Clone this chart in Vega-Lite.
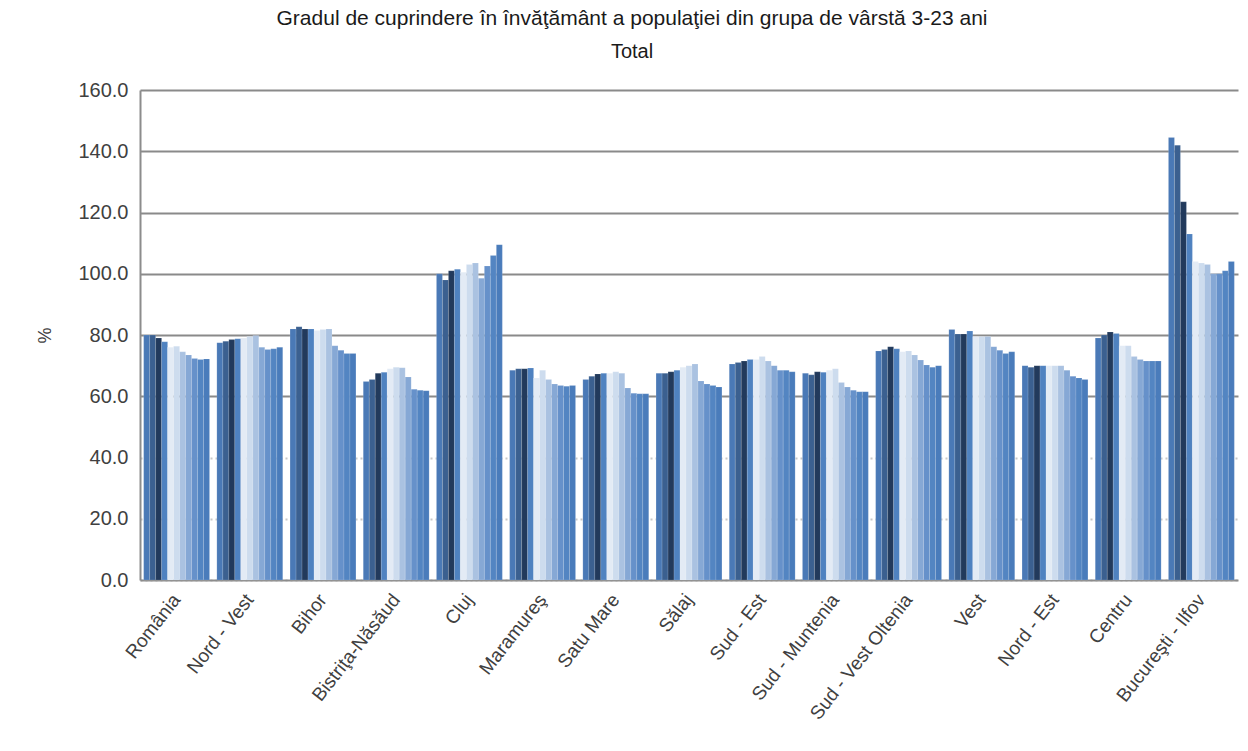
{
  "$schema": "https://vega.github.io/schema/vega-lite/v6.json",
  "width": 1098,
  "height": 490,
  "autosize": {"type": "none"},
  "padding": {"left": 140, "top": 90, "right": 10, "bottom": 171},
  "background": "white",
  "title": {
    "text": "Gradul de cuprindere în învăţământ a populaţiei din grupa de vârstă 3-23 ani",
    "subtitle": "Total",
    "anchor": "middle",
    "frame": "group",
    "dx": -57,
    "offset": 18,
    "font": "Liberation Sans",
    "fontSize": 21,
    "fontWeight": "normal",
    "color": "#1a1a1a",
    "subtitleFont": "Liberation Sans",
    "subtitleFontSize": 20,
    "subtitleColor": "#1a1a1a",
    "subtitlePadding": 13
  },
  "data": {
    "values": [
      {"r": "România", "an": "2000/2001", "v": 80.0}, {"r": "România", "an": "2001/2002", "v": 80.0}, {"r": "România", "an": "2002/2003", "v": 79.0}, {"r": "România", "an": "2003/2004", "v": 77.8}, {"r": "România", "an": "2004/2005", "v": 76.0}, {"r": "România", "an": "2005/2006", "v": 76.3}, {"r": "România", "an": "2006/2007", "v": 74.5}, {"r": "România", "an": "2007/2008", "v": 73.5}, {"r": "România", "an": "2008/2009", "v": 72.3}, {"r": "România", "an": "2009/2010", "v": 72.0}, {"r": "România", "an": "2010/2011", "v": 72.2},
      {"r": "Nord - Vest", "an": "2000/2001", "v": 77.5}, {"r": "Nord - Vest", "an": "2001/2002", "v": 78.0}, {"r": "Nord - Vest", "an": "2002/2003", "v": 78.5}, {"r": "Nord - Vest", "an": "2003/2004", "v": 78.8}, {"r": "Nord - Vest", "an": "2004/2005", "v": 79.0}, {"r": "Nord - Vest", "an": "2005/2006", "v": 79.5}, {"r": "Nord - Vest", "an": "2006/2007", "v": 79.8}, {"r": "Nord - Vest", "an": "2007/2008", "v": 76.0}, {"r": "Nord - Vest", "an": "2008/2009", "v": 75.3}, {"r": "Nord - Vest", "an": "2009/2010", "v": 75.5}, {"r": "Nord - Vest", "an": "2010/2011", "v": 76.0},
      {"r": "Bihor", "an": "2000/2001", "v": 82.0}, {"r": "Bihor", "an": "2001/2002", "v": 82.7}, {"r": "Bihor", "an": "2002/2003", "v": 82.0}, {"r": "Bihor", "an": "2003/2004", "v": 82.0}, {"r": "Bihor", "an": "2004/2005", "v": 81.5}, {"r": "Bihor", "an": "2005/2006", "v": 81.8}, {"r": "Bihor", "an": "2006/2007", "v": 82.0}, {"r": "Bihor", "an": "2007/2008", "v": 76.5}, {"r": "Bihor", "an": "2008/2009", "v": 75.0}, {"r": "Bihor", "an": "2009/2010", "v": 74.0}, {"r": "Bihor", "an": "2010/2011", "v": 74.0},
      {"r": "Bistriţa-Năsăud", "an": "2000/2001", "v": 64.8}, {"r": "Bistriţa-Năsăud", "an": "2001/2002", "v": 65.5}, {"r": "Bistriţa-Năsăud", "an": "2002/2003", "v": 67.5}, {"r": "Bistriţa-Năsăud", "an": "2003/2004", "v": 67.8}, {"r": "Bistriţa-Năsăud", "an": "2004/2005", "v": 69.0}, {"r": "Bistriţa-Năsăud", "an": "2005/2006", "v": 69.5}, {"r": "Bistriţa-Năsăud", "an": "2006/2007", "v": 69.3}, {"r": "Bistriţa-Năsăud", "an": "2007/2008", "v": 66.3}, {"r": "Bistriţa-Năsăud", "an": "2008/2009", "v": 62.3}, {"r": "Bistriţa-Năsăud", "an": "2009/2010", "v": 62.0}, {"r": "Bistriţa-Năsăud", "an": "2010/2011", "v": 61.8},
      {"r": "Cluj", "an": "2000/2001", "v": 100.0}, {"r": "Cluj", "an": "2001/2002", "v": 98.0}, {"r": "Cluj", "an": "2002/2003", "v": 101.0}, {"r": "Cluj", "an": "2003/2004", "v": 101.5}, {"r": "Cluj", "an": "2004/2005", "v": 100.5}, {"r": "Cluj", "an": "2005/2006", "v": 103.0}, {"r": "Cluj", "an": "2006/2007", "v": 103.5}, {"r": "Cluj", "an": "2007/2008", "v": 98.5}, {"r": "Cluj", "an": "2008/2009", "v": 102.5}, {"r": "Cluj", "an": "2009/2010", "v": 106.0}, {"r": "Cluj", "an": "2010/2011", "v": 109.5},
      {"r": "Maramureş", "an": "2000/2001", "v": 68.5}, {"r": "Maramureş", "an": "2001/2002", "v": 69.0}, {"r": "Maramureş", "an": "2002/2003", "v": 69.0}, {"r": "Maramureş", "an": "2003/2004", "v": 69.2}, {"r": "Maramureş", "an": "2004/2005", "v": 66.0}, {"r": "Maramureş", "an": "2005/2006", "v": 68.5}, {"r": "Maramureş", "an": "2006/2007", "v": 65.5}, {"r": "Maramureş", "an": "2007/2008", "v": 64.0}, {"r": "Maramureş", "an": "2008/2009", "v": 63.5}, {"r": "Maramureş", "an": "2009/2010", "v": 63.3}, {"r": "Maramureş", "an": "2010/2011", "v": 63.5},
      {"r": "Satu Mare", "an": "2000/2001", "v": 65.5}, {"r": "Satu Mare", "an": "2001/2002", "v": 66.5}, {"r": "Satu Mare", "an": "2002/2003", "v": 67.3}, {"r": "Satu Mare", "an": "2003/2004", "v": 67.5}, {"r": "Satu Mare", "an": "2004/2005", "v": 67.5}, {"r": "Satu Mare", "an": "2005/2006", "v": 68.0}, {"r": "Satu Mare", "an": "2006/2007", "v": 67.5}, {"r": "Satu Mare", "an": "2007/2008", "v": 62.7}, {"r": "Satu Mare", "an": "2008/2009", "v": 61.0}, {"r": "Satu Mare", "an": "2009/2010", "v": 60.8}, {"r": "Satu Mare", "an": "2010/2011", "v": 60.8},
      {"r": "Sălaj", "an": "2000/2001", "v": 67.5}, {"r": "Sălaj", "an": "2001/2002", "v": 67.5}, {"r": "Sălaj", "an": "2002/2003", "v": 68.0}, {"r": "Sălaj", "an": "2003/2004", "v": 68.5}, {"r": "Sălaj", "an": "2004/2005", "v": 69.5}, {"r": "Sălaj", "an": "2005/2006", "v": 70.0}, {"r": "Sălaj", "an": "2006/2007", "v": 70.5}, {"r": "Sălaj", "an": "2007/2008", "v": 65.0}, {"r": "Sălaj", "an": "2008/2009", "v": 64.0}, {"r": "Sălaj", "an": "2009/2010", "v": 63.5}, {"r": "Sălaj", "an": "2010/2011", "v": 63.0},
      {"r": "Sud - Est", "an": "2000/2001", "v": 70.5}, {"r": "Sud - Est", "an": "2001/2002", "v": 71.0}, {"r": "Sud - Est", "an": "2002/2003", "v": 71.5}, {"r": "Sud - Est", "an": "2003/2004", "v": 72.0}, {"r": "Sud - Est", "an": "2004/2005", "v": 72.0}, {"r": "Sud - Est", "an": "2005/2006", "v": 73.0}, {"r": "Sud - Est", "an": "2006/2007", "v": 71.5}, {"r": "Sud - Est", "an": "2007/2008", "v": 70.0}, {"r": "Sud - Est", "an": "2008/2009", "v": 68.5}, {"r": "Sud - Est", "an": "2009/2010", "v": 68.5}, {"r": "Sud - Est", "an": "2010/2011", "v": 68.0},
      {"r": "Sud - Muntenia", "an": "2000/2001", "v": 67.5}, {"r": "Sud - Muntenia", "an": "2001/2002", "v": 67.0}, {"r": "Sud - Muntenia", "an": "2002/2003", "v": 68.0}, {"r": "Sud - Muntenia", "an": "2003/2004", "v": 67.8}, {"r": "Sud - Muntenia", "an": "2004/2005", "v": 68.5}, {"r": "Sud - Muntenia", "an": "2005/2006", "v": 69.0}, {"r": "Sud - Muntenia", "an": "2006/2007", "v": 64.5}, {"r": "Sud - Muntenia", "an": "2007/2008", "v": 63.0}, {"r": "Sud - Muntenia", "an": "2008/2009", "v": 62.0}, {"r": "Sud - Muntenia", "an": "2009/2010", "v": 61.5}, {"r": "Sud - Muntenia", "an": "2010/2011", "v": 61.5},
      {"r": "Sud - Vest Oltenia", "an": "2000/2001", "v": 74.8}, {"r": "Sud - Vest Oltenia", "an": "2001/2002", "v": 75.3}, {"r": "Sud - Vest Oltenia", "an": "2002/2003", "v": 76.2}, {"r": "Sud - Vest Oltenia", "an": "2003/2004", "v": 75.5}, {"r": "Sud - Vest Oltenia", "an": "2004/2005", "v": 74.5}, {"r": "Sud - Vest Oltenia", "an": "2005/2006", "v": 74.8}, {"r": "Sud - Vest Oltenia", "an": "2006/2007", "v": 73.5}, {"r": "Sud - Vest Oltenia", "an": "2007/2008", "v": 71.8}, {"r": "Sud - Vest Oltenia", "an": "2008/2009", "v": 70.2}, {"r": "Sud - Vest Oltenia", "an": "2009/2010", "v": 69.5}, {"r": "Sud - Vest Oltenia", "an": "2010/2011", "v": 70.0},
      {"r": "Vest", "an": "2000/2001", "v": 81.8}, {"r": "Vest", "an": "2001/2002", "v": 80.3}, {"r": "Vest", "an": "2002/2003", "v": 80.3}, {"r": "Vest", "an": "2003/2004", "v": 81.3}, {"r": "Vest", "an": "2004/2005", "v": 79.5}, {"r": "Vest", "an": "2005/2006", "v": 79.5}, {"r": "Vest", "an": "2006/2007", "v": 79.5}, {"r": "Vest", "an": "2007/2008", "v": 76.2}, {"r": "Vest", "an": "2008/2009", "v": 75.0}, {"r": "Vest", "an": "2009/2010", "v": 74.0}, {"r": "Vest", "an": "2010/2011", "v": 74.5},
      {"r": "Nord - Est", "an": "2000/2001", "v": 70.0}, {"r": "Nord - Est", "an": "2001/2002", "v": 69.5}, {"r": "Nord - Est", "an": "2002/2003", "v": 70.0}, {"r": "Nord - Est", "an": "2003/2004", "v": 70.0}, {"r": "Nord - Est", "an": "2004/2005", "v": 70.0}, {"r": "Nord - Est", "an": "2005/2006", "v": 70.0}, {"r": "Nord - Est", "an": "2006/2007", "v": 70.0}, {"r": "Nord - Est", "an": "2007/2008", "v": 68.5}, {"r": "Nord - Est", "an": "2008/2009", "v": 66.5}, {"r": "Nord - Est", "an": "2009/2010", "v": 66.0}, {"r": "Nord - Est", "an": "2010/2011", "v": 65.5},
      {"r": "Centru", "an": "2000/2001", "v": 79.0}, {"r": "Centru", "an": "2001/2002", "v": 80.0}, {"r": "Centru", "an": "2002/2003", "v": 81.0}, {"r": "Centru", "an": "2003/2004", "v": 80.5}, {"r": "Centru", "an": "2004/2005", "v": 76.5}, {"r": "Centru", "an": "2005/2006", "v": 76.5}, {"r": "Centru", "an": "2006/2007", "v": 73.0}, {"r": "Centru", "an": "2007/2008", "v": 72.0}, {"r": "Centru", "an": "2008/2009", "v": 71.5}, {"r": "Centru", "an": "2009/2010", "v": 71.5}, {"r": "Centru", "an": "2010/2011", "v": 71.5},
      {"r": "Bucureşti - Ilfov", "an": "2000/2001", "v": 144.5}, {"r": "Bucureşti - Ilfov", "an": "2001/2002", "v": 142.0}, {"r": "Bucureşti - Ilfov", "an": "2002/2003", "v": 123.5}, {"r": "Bucureşti - Ilfov", "an": "2003/2004", "v": 113.0}, {"r": "Bucureşti - Ilfov", "an": "2004/2005", "v": 104.0}, {"r": "Bucureşti - Ilfov", "an": "2005/2006", "v": 103.5}, {"r": "Bucureşti - Ilfov", "an": "2006/2007", "v": 103.0}, {"r": "Bucureşti - Ilfov", "an": "2007/2008", "v": 100.0}, {"r": "Bucureşti - Ilfov", "an": "2008/2009", "v": 100.0}, {"r": "Bucureşti - Ilfov", "an": "2009/2010", "v": 101.0}, {"r": "Bucureşti - Ilfov", "an": "2010/2011", "v": 104.0}
    ]
  },
  "mark": {"type": "bar", "stroke": "#ffffff", "strokeOpacity": 0.25, "strokeWidth": 0.5},
  "encoding": {
    "x": {
      "field": "r",
      "type": "nominal",
      "sort": null,
      "title": null,
      "scale": {"paddingInner": 0.1, "paddingOuter": 0.05},
      "axis": {
        "labelAngle": -52,
        "labelAlign": "right",
        "labelBaseline": "middle",
        "labelFont": "Liberation Sans",
        "labelFontSize": 19,
        "labelColor": "#404040",
        "labelPadding": 16,
        "ticks": false,
        "domainColor": "#8c8c8c",
        "domainWidth": 2,
        "grid": false
      }
    },
    "xOffset": {"field": "an", "type": "nominal", "sort": null, "scale": {"paddingInner": 0, "paddingOuter": 0}},
    "y": {
      "field": "v",
      "type": "quantitative",
      "title": "%",
      "scale": {"domain": [0, 160], "nice": false},
      "axis": {
        "values": [0, 20, 40, 60, 80, 100, 120, 140, 160],
        "format": ".1f",
        "labelFont": "Liberation Sans",
        "labelFontSize": 20,
        "labelColor": "#404040",
        "labelPadding": 12,
        "ticks": false,
        "domainColor": "#8c8c8c",
        "domainWidth": 2,
        "grid": true,
        "gridColor": {"condition": {"test": "datum.value <= 40", "value": "#c8c8c8"}, "value": "#8a8a8a"},
        "gridWidth": 2,
        "gridDash": {"condition": {"test": "datum.value <= 40", "value": [2, 3]}, "value": []},
        "titleFont": "Liberation Sans",
        "titleFontSize": 18,
        "titleFontWeight": "normal",
        "titleColor": "#404040",
        "titleX": -86,
        "titleY": 245,
        "titleAngle": -90
      }
    },
    "color": {
      "field": "an",
      "type": "nominal",
      "sort": null,
      "legend": null,
      "scale": {"range": ["#4a79b6", "#3b6090", "#223a5c", "#4f82c0", "#e3ebf5", "#cddcee", "#aac2e1", "#86a8d5", "#6691ca", "#5385c2", "#4a7cbb"]}
    }
  },
  "config": {"view": {"stroke": null}}
}
